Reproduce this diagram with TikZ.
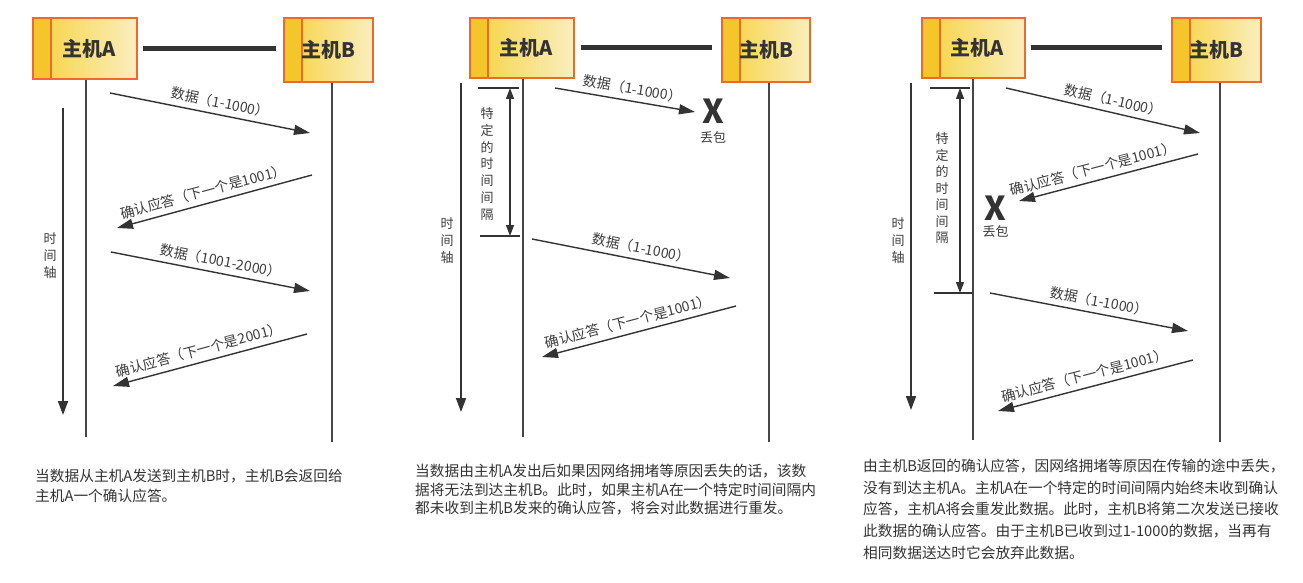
\documentclass[tikz,border=0pt]{standalone}
\usepackage{fontspec}
\setmainfont{Noto Sans CJK SC}
\usetikzlibrary{arrows.meta}

\definecolor{hostline}{HTML}{EC6A2C}
\definecolor{hoststripe}{HTML}{F5C62C}
\definecolor{hostleft}{HTML}{F7D23E}
\definecolor{hostright}{HTML}{FAEEBE}
\definecolor{ink}{HTML}{333333}
\definecolor{txtgray}{HTML}{3C3C3C}

\tikzset{
  host/.style={draw=hostline, line width=1.3pt, left color=hostleft, right color=hostright,
    inner sep=0pt, text=ink, font=\bfseries\fontsize{20}{24}\selectfont,
    path picture={
      \fill[hoststripe] (path picture bounding box.north west) rectangle ([xshift=18pt]path picture bounding box.south west);
      \draw[hostline, line width=1.3pt] ([xshift=18pt]path picture bounding box.north west) -- ([xshift=18pt]path picture bounding box.south west);
    }},
  link/.style={line width=5pt, draw=ink},
  life/.style={line width=1.8pt, draw=ink!90},
  msg/.style={line width=1.4pt, draw=ink, -{Triangle[length=16pt,width=10pt]}},
  lbl/.style={sloped, above=4pt, pos=0.54, inner sep=1pt, text=txtgray, font=\fontsize{14}{16}\selectfont},
  axis/.style={line width=1.8pt, draw=ink, -{Triangle[length=14pt,width=10pt]}},
  gap/.style={line width=1.4pt, draw=ink, {Triangle[length=11pt,width=8pt]}-{Triangle[length=11pt,width=8pt]}},
  tick/.style={line width=1.4pt, draw=ink},
  vtext/.style={align=center, inner sep=0pt, text=txtgray},
  lost/.style={inner sep=0pt, text=ink, font=\bfseries\fontsize{33}{33}\selectfont},
  lostlbl/.style={inner sep=0pt, text=txtgray, font=\fontsize{13}{15}\selectfont},
  caption/.style={anchor=north west, align=left, inner sep=0pt, text=ink}
}

\begin{document}
\begin{tikzpicture}[x=1pt, y=-1pt]
  \useasboundingbox (0,0) rectangle (1303,583);

  % Panel 1
  \node[host, minimum width=104pt, minimum height=61pt] (a1) at (85,48.5) {\hspace*{8pt}主机A};
  \node[host, minimum width=89pt, minimum height=64pt] (b1) at (328.5,50) {主机B};
  \draw[link, shorten <=5pt, shorten >=7pt] (a1.east) -- (a1.east -| b1.west);
  \coordinate (a1e) at (86,437);
  \coordinate (b1e) at (332,442);
  \draw[life] (a1e |- a1.south) -- (a1e);
  \draw[life] (b1e |- b1.south) -- (b1e);

  \coordinate (t1s) at (63,108);
  \coordinate (t1e) at (63,415);
  \draw[axis] (t1s) -- (t1e);
  \node[vtext, font=\fontsize{13}{17}\selectfont] (t1) at (50,256) {时\\间\\轴};

  \coordinate (m11a) at (110,93);  \coordinate (m11b) at (310,133);
  \coordinate (m12a) at (312,175); \coordinate (m12b) at (117,228);
  \coordinate (m13a) at (111,252); \coordinate (m13b) at (310,291);
  \coordinate (m14a) at (307,334); \coordinate (m14b) at (113,386);
  \draw[msg] (m11a) -- node[lbl] (l11) {数据（1-1000）} (m11b);
  \draw[msg] (m12a) -- node[lbl] (l12) {确认应答（下一个是1001）} (m12b);
  \draw[msg] (m13a) -- node[lbl] (l13) {数据（1001-2000）} (m13b);
  \draw[msg] (m14a) -- node[lbl] (l14) {确认应答（下一个是2001）} (m14b);

  \node[caption, font=\fontsize{14.7}{20}\selectfont] (c1) at (35,469)
    {当数据从主机A发送到主机B时，主机B会返回给\\主机A一个确认应答。};

  % Panel 2
  \node[host, minimum width=104pt, minimum height=60pt] (a2) at (522,48) {\hspace*{8pt}主机A};
  \node[host, minimum width=88pt, minimum height=64pt] (b2) at (766,50) {主机B};
  \draw[link, shorten <=6pt, shorten >=9pt] (a2.east) -- (a2.east -| b2.west);
  \coordinate (a2e) at (523,437);
  \coordinate (b2e) at (769,442);
  \draw[life] (a2e |- a2.south) -- (a2e);
  \draw[life] (b2e |- b2.south) -- (b2e);

  \coordinate (t2s) at (461,83);
  \coordinate (t2e) at (461,412);
  \draw[axis] (t2s) -- (t2e);
  \node[vtext, font=\fontsize{13}{17}\selectfont] (t2) at (447,241) {时\\间\\轴};

  \coordinate (g2a) at (478,88);  \coordinate (g2b) at (519,88);
  \coordinate (g2c) at (480,236); \coordinate (g2d) at (520,236);
  \draw[tick] (g2a) -- (g2b);
  \draw[tick] (g2c) -- (g2d);
  \draw[gap] (510,88) -- (510,236);
  \node[vtext, font=\fontsize{13}{16.7}\selectfont] (s2) at (487,164) {特\\定\\的\\时\\间\\间\\隔};

  \coordinate (m21a) at (555,88);  \coordinate (m21b) at (695,112);
  \coordinate (m22a) at (532,239); \coordinate (m22b) at (730,278);
  \coordinate (m23a) at (736,306); \coordinate (m23b) at (542,357);
  \draw[msg] (m21a) -- node[lbl] (l21) {数据（1-1000）} (m21b);
  \node[lost] (x2) at (713,111.5) {X};
  \node[lostlbl] (x2l) at (713,137.5) {丢包};
  \draw[msg] (m22a) -- node[lbl] (l22) {数据（1-1000）} (m22b);
  \draw[msg] (m23a) -- node[lbl] (l23) {确认应答（下一个是1001）} (m23b);

  \node[caption, font=\fontsize{14.7}{18.5}\selectfont] (c2) at (415,464)
    {当数据由主机A发出后如果因网络拥堵等原因丢失的话，该数\\据将无法到达主机B。此时，如果主机A在一个特定时间间隔内\\都未收到主机B发来的确认应答，将会对此数据进行重发。};

  % Panel 3
  \node[host, minimum width=103pt, minimum height=60pt] (a3) at (973.5,48) {\hspace*{8pt}主机A};
  \node[host, minimum width=89pt, minimum height=64pt] (b3) at (1216.5,50) {主机B};
  \draw[link, shorten <=5pt, shorten >=9pt] (a3.east) -- (a3.east -| b3.west);
  \coordinate (a3e) at (973,440);
  \coordinate (b3e) at (1220,442);
  \draw[life] (a3e |- a3.south) -- (a3e);
  \draw[life] (b3e |- b3.south) -- (b3e);

  \coordinate (t3s) at (911,83);
  \coordinate (t3e) at (911,410);
  \draw[axis] (t3s) -- (t3e);
  \node[vtext, font=\fontsize{13}{17}\selectfont] (t3) at (898,241) {时\\间\\轴};

  \coordinate (g3a) at (930,88);  \coordinate (g3b) at (970,88);
  \coordinate (g3c) at (934,293); \coordinate (g3d) at (972,293);
  \draw[tick] (g3a) -- (g3b);
  \draw[tick] (g3c) -- (g3d);
  \draw[gap] (960,88) -- (960,293);
  \node[vtext, font=\fontsize{13}{16.5}\selectfont] (s3) at (942,188.5) {特\\定\\的\\时\\间\\间\\隔};

  \coordinate (m31a) at (1006,88);  \coordinate (m31b) at (1200,133);
  \coordinate (m32a) at (1198,154); \coordinate (m32b) at (1019,201);
  \coordinate (m33a) at (990,293);  \coordinate (m33b) at (1188,331);
  \coordinate (m34a) at (1193,360); \coordinate (m34b) at (998,411);
  \draw[msg] (m31a) -- node[lbl] (l31) {数据（1-1000）} (m31b);
  \draw[msg] (m32a) -- node[lbl, pos=0.57] (l32) {确认应答（下一个是1001）} (m32b);
  \node[lost] (x3) at (995.5,208.5) {X};
  \node[lostlbl] (x3l) at (995.5,231.5) {丢包};
  \draw[msg] (m33a) -- node[lbl] (l33) {数据（1-1000）} (m33b);
  \draw[msg] (m34a) -- node[lbl] (l34) {确认应答（下一个是1001）} (m34b);

  \node[caption, font=\fontsize{14.7}{21.6}\selectfont] (c3) at (863,459)
    {由主机B返回的确认应答，因网络拥堵等原因在传输的途中丢失，\\没有到达主机A。主机A在一个特定的时间间隔内始终未收到确认\\应答，主机A将会重发此数据。此时，主机B将第二次发送已接收\\此数据的确认应答。由于主机B已收到过1-1000的数据，当再有\\相同数据送达时它会放弃此数据。};

\end{tikzpicture}
\end{document}
